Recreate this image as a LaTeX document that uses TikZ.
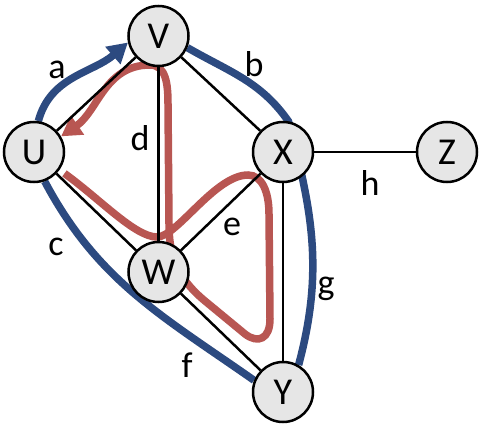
\documentclass[tikz,border=0pt]{standalone}
\usepackage{fontspec}
\setmainfont{Carlito}
\usepackage{tikz}
\usetikzlibrary{arrows.meta,backgrounds}
\definecolor{walkblue}{RGB}{44,74,128}
\definecolor{walkred}{RGB}{184,86,82}
\definecolor{vertgray}{RGB}{230,230,230}

\begin{document}
\begin{tikzpicture}[
  x=1pt, y=1pt,
  vertex/.style={circle, draw=black, line width=2.5pt, fill=vertgray,
    minimum size=60pt, inner sep=0pt, font=\fontsize{38}{40}\selectfont},
  edge/.style={draw=black, line width=2.5pt},
  elabel/.style={inner sep=0pt, font=\fontsize{36}{40}\selectfont},
  bluewalk/.style={draw=walkblue, line width=7.5pt},
  redwalk/.style={draw=walkred, line width=7.5pt},
  walktip/.style={-{Triangle[length=20pt,width=22pt]}}
]
\useasboundingbox (0,0) rectangle (482,424);

% ---- vertices ----
\node[vertex] (V) at (158.5,388) {V};
\node[vertex] (U) at (34,272) {U};
\node[vertex] (X) at (283,272) {X};
\node[vertex] (Z) at (447,272) {Z};
\node[vertex] (W) at (158.5,152) {W};
\node[vertex] (Y) at (283,32) {Y};

% ---- edge labels ----
\node[elabel] (la) at (57,354) {a};
\node[elabel] (lb) at (254,360) {b};
\node[elabel] (lc) at (56,177) {c};
\node[elabel] (ld) at (140,286) {d};
\node[elabel] (le) at (232,197) {e};
\node[elabel] (lf) at (187,59) {f};
\node[elabel] (lg) at (326,135) {g};
\node[elabel] (lh) at (370,241) {h};

\begin{scope}[on background layer]
% ---- blue walk ----
\draw[bluewalk, walktip] (U.82) to[out=75, in=221] (V.192);
\draw[bluewalk] (V.-22) to[out=-30, in=125] (X.80) to[out=-75, in=75] (Y.60);
\draw[bluewalk] (Y.158) to[out=145, in=-62] (U.-70);

% ---- red walk ----
\draw[redwalk, walktip, shorten <=6pt] (U.-35)
  .. controls (100,225) and (135,187) .. (157,187)
  .. controls (177,187) and (215,249) .. (248,249)
  .. controls (262,249) and (269,232) .. (269,210)
  -- (270,105)
  .. controls (270,85) and (258,80) .. (245,90)
  -- (205,123)
  .. controls (176,147) and (169,170) .. (169,200)
  -- (168,320)
  .. controls (168,340) and (166,359) .. (150,359)
  .. controls (105,359) and (98,313) .. (U.30);

% ---- edges ----
\draw[edge] (U) -- (V);
\draw[edge] (V) -- (X);
\draw[edge] (V) -- (W);
\draw[edge] (U) -- (W);
\draw[edge] (W) -- (X);
\draw[edge] (W) -- (Y);
\draw[edge] (X) -- (Y);
\draw[edge] (X) -- (Z);
\end{scope}

\end{tikzpicture}
\end{document}
